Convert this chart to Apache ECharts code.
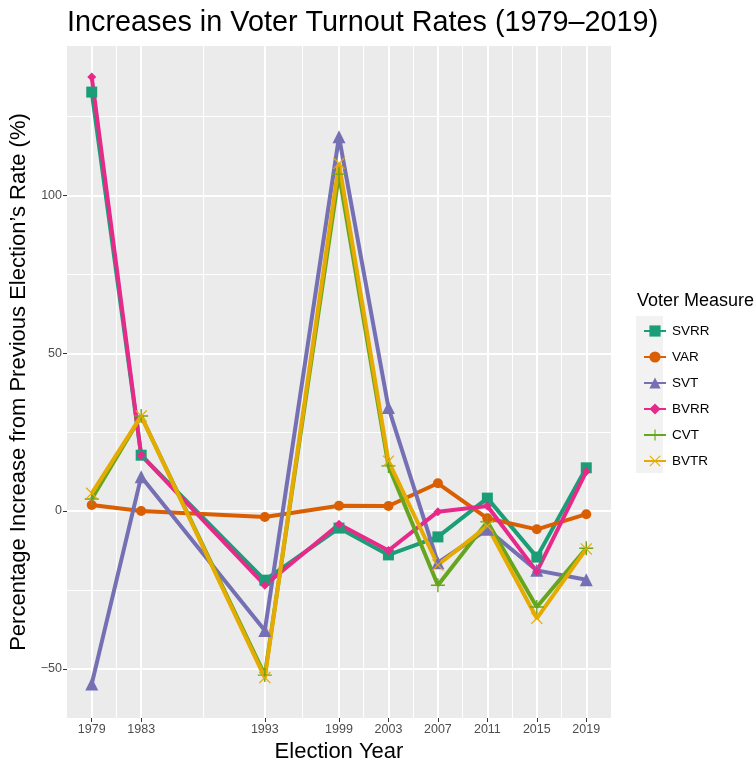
<!DOCTYPE html>
<html>
<head>
<meta charset="utf-8">
<title>Increases in Voter Turnout Rates</title>
<script src="https://cdn.jsdelivr.net/npm/echarts@6/dist/echarts.min.js"></script>
<style>
  html, body { margin: 0; padding: 0; background: #fff; }
  #chart { width: 756px; height: 761px; }
</style>
</head>
<body>
<div id="chart"></div>
<script>
// election years (x axis)
const years = [1979, 1983, 1993, 1999, 2003, 2007, 2011, 2015, 2019];
const minorYears = [1981, 1988, 1996, 2001, 2005, 2009, 2013, 2017];
const yTicks = [-50, 0, 50, 100];
const yMinorTicks = [-25, 25, 75, 125];

// percentage increase from previous election
const svrr = [132.8, 17.7, -21.9, -5.4, -13.9, -8.2, 4.1, -14.6, 13.7];
const varr = [1.9, 0.0, -1.9, 1.7, 1.6, 8.8, -2.3, -5.8, -1.0];
const svt = [-54.8, 10.9, -37.9, 118.6, 32.8, -16.4, -5.8, -18.8, -21.8];
const bvrr = [137.6, 17.7, -23.5, -4.2, -12.5, -0.2, 1.6, -19.2, 12.5];
const cvt = [3.8, 30.1, -52.0, 106.8, 14.3, -23.5, -3.4, -30.4, -11.8];
const bvtr = [5.6, 30.1, -52.8, 110.2, 15.8, -17.1, -4.8, -34.0, -12.0];

const names = ['SVRR', 'VAR', 'SVT', 'BVRR', 'CVT', 'BVTR'];
const values = [svrr, varr, svt, bvrr, cvt, bvtr];
const colors = ['#1B9E77', '#D95F02', '#7570B3', '#E7298A', '#66A61E', '#E6AB02'];

const plusPath = 'path://M9,0h2v9h9v2h-9v9h-2v-9h-9v-2h9z';
const crossPath = 'path://M0,1.4L1.4,0L10,8.6L18.6,0L20,1.4L11.4,10L20,18.6L18.6,20L10,11.4L1.4,20L0,18.6L8.6,10Z';
const symbols = ['rect', 'circle', 'triangle', 'diamond', plusPath, crossPath];
const symbolSizes = [11, 10, 13, 9, 14, 12];

const font = '"Liberation Sans", Arial, Helvetica, sans-serif';

const myChart = echarts.init(document.getElementById('chart'), null, { renderer: 'canvas' });

const series = names.map((name, i) => ({
  name,
  type: 'line',
  xAxisIndex: 0,
  yAxisIndex: 0,
  data: years.map((y, j) => [y, values[i][j]]),
  symbol: symbols[i],
  symbolSize: symbolSizes[i],
  showSymbol: true,
  animation: false,
  lineStyle: {
    color: colors[i],
    width: 4,
  },
  itemStyle: {
    color: colors[i],
  },
  emphasis: { disabled: true },
}));

const option = {
  backgroundColor: '#fff',
  animation: false,
  textStyle: { fontFamily: font },
  title: [
    {
      text: 'Increases in Voter Turnout Rates (1979\u20132019)',
      left: 62,
      top: 4,
      textStyle: {
        fontFamily: font,
        fontSize: 28.8,
        fontWeight: 'normal',
        color: '#000',
      },
    },
    {
      // legend title
      text: 'Voter Measure',
      left: 632,
      top: 287,
      textStyle: {
        fontFamily: font,
        fontSize: 18,
        fontWeight: 'normal',
        color: '#000',
      },
    },
  ],
  graphic: [
    {
      // grey background behind legend keys
      type: 'rect',
      left: 636,
      top: 316,
      shape: { width: 27, height: 157 },
      style: { fill: '#F2F2F2' },
      z: -1,
    },
  ],
  legend: {
    orient: 'vertical',
    left: 638,
    top: 319,
    itemWidth: 22,
    itemHeight: 14,
    itemGap: 12,
    data: names,
    selectedMode: false,
    textStyle: {
      fontFamily: font,
      fontSize: 13.5,
      color: '#000',
      padding: [0, 0, 0, 1],
    },
  },
  grid: {
    left: 67,
    right: 145,
    top: 46,
    bottom: 43,
    show: true,
    backgroundColor: '#EBEBEB',
    borderWidth: 0,
    outerBoundsMode: 'none',
    containLabel: false,
  },
  xAxis: [
    {
      type: 'value',
      min: 1977,
      max: 2021,
      name: 'Election Year',
      nameLocation: 'middle',
      nameGap: 21,
      nameTextStyle: { fontFamily: font, fontSize: 22, color: '#000' },
      axisLine: { show: false, onZero: false },
      axisTick: {
        show: true,
        length: 4,
        lineStyle: { color: '#333', width: 1 },
        customValues: years,
      },
      axisLabel: {
        customValues: years,
        color: '#4D4D4D',
        fontSize: 12.5,
        margin: 5,
        fontFamily: font,
        formatter: v => String(v),
      },
      splitLine: { show: true, lineStyle: { color: '#fff', width: 2 } },
      z: 1,
    },
    {
      // minor gridlines
      type: 'value',
      min: 1977,
      max: 2021,
      axisLine: { show: false, onZero: false },
      axisTick: { show: false, customValues: minorYears },
      axisLabel: { show: false, customValues: minorYears },
      splitLine: { show: true, lineStyle: { color: '#fff', width: 1 } },
      z: 0,
    },
  ],
  yAxis: [
    {
      type: 'value',
      min: -65.6,
      max: 147.4,
      name: 'Percentage Increase from Previous Election\u2019s Rate (%)',
      nameLocation: 'middle',
      nameGap: 34,
      nameTextStyle: { fontFamily: font, fontSize: 22, color: '#000' },
      axisLine: { show: false, onZero: false },
      axisTick: {
        show: true,
        length: 4,
        lineStyle: { color: '#333', width: 1 },
        customValues: yTicks,
      },
      axisLabel: {
        customValues: yTicks,
        color: '#4D4D4D',
        fontSize: 12.5,
        margin: 5,
        fontFamily: font,
        formatter: v => String(v).replace('-', '\u2212'),
      },
      splitLine: { show: true, lineStyle: { color: '#fff', width: 2 } },
      z: 1,
    },
    {
      // minor gridlines
      type: 'value',
      min: -65.6,
      max: 147.4,
      axisLine: { show: false, onZero: false },
      axisTick: { show: false, customValues: yMinorTicks },
      axisLabel: { show: false, customValues: yMinorTicks },
      splitLine: { show: true, lineStyle: { color: '#fff', width: 1 } },
      z: 0,
    },
  ],
  series,
};

myChart.setOption(option);
</script>
</body>
</html>
